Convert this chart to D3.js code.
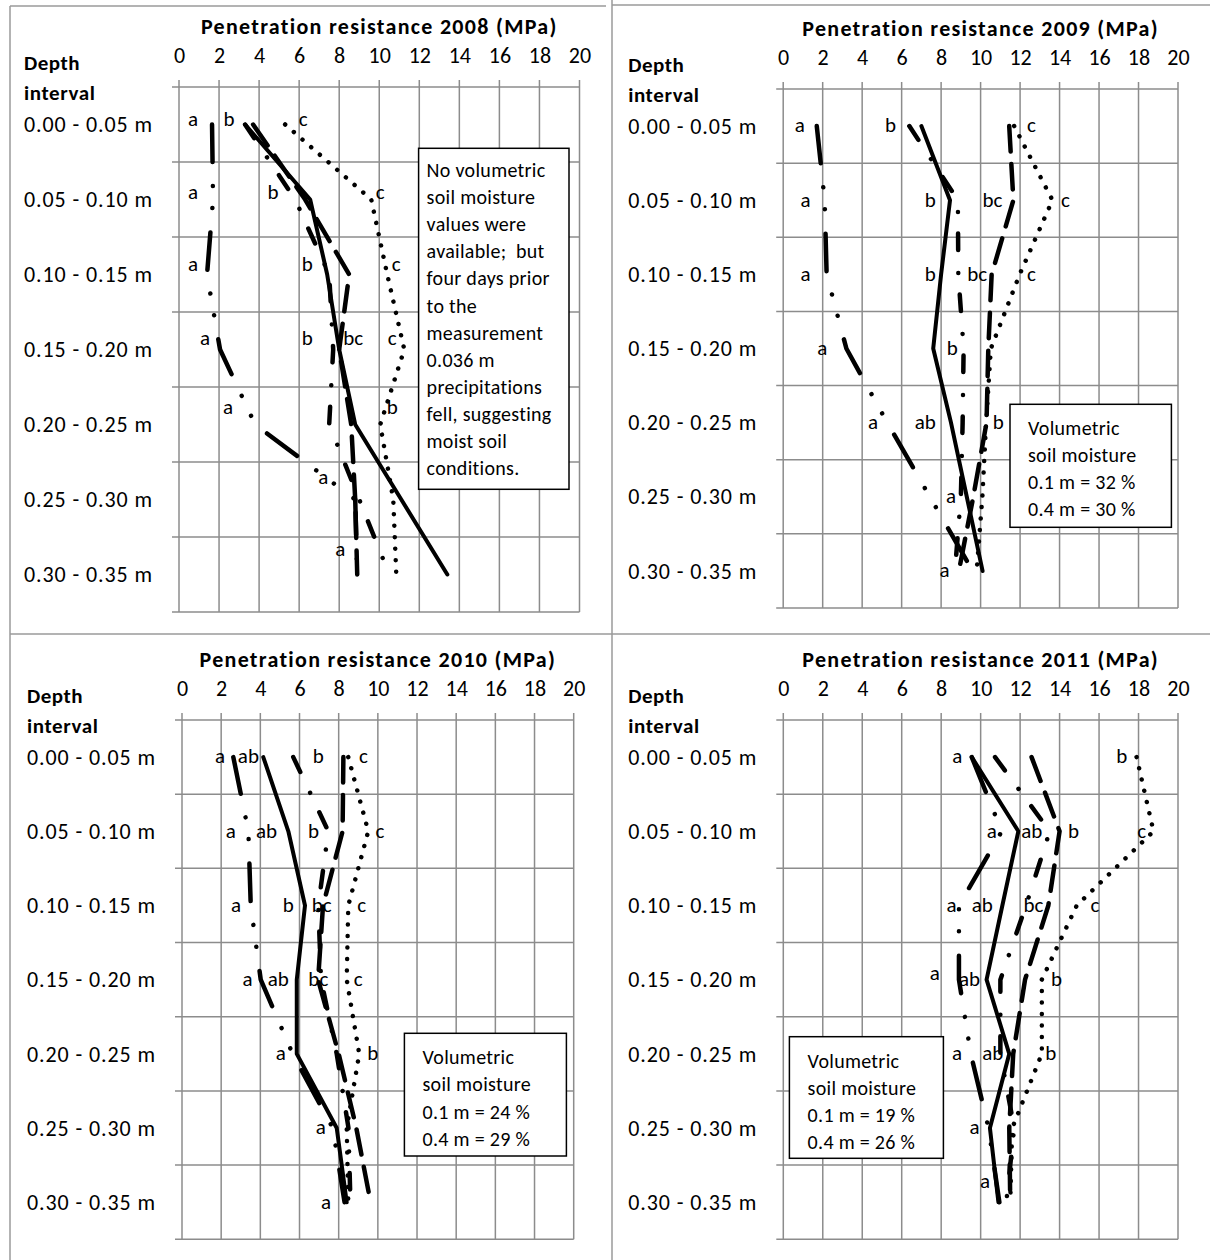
<!DOCTYPE html>
<html>
<head>
<meta charset="utf-8">
<script src="https://cdn.jsdelivr.net/npm/d3@7"></script>
<style>
  body { margin: 0; background: #fff; }
  text { font-family: Carlito, Lato, sans-serif; fill: #000; }
</style>
</head>
<body>
<div id="chart"></div>
<script>
// ---- data ----
const depthLabels = ["0.00 - 0.05 m", "0.05 - 0.10 m", "0.10 - 0.15 m", "0.15 - 0.20 m",
                     "0.20 - 0.25 m", "0.25 - 0.30 m", "0.30 - 0.35 m"];
const xTicks = [0, 2, 4, 6, 8, 10, 12, 14, 16, 18, 20];
const years = [2008, 2009, 2010, 2011];

// penetration resistance (MPa) per depth interval, one array per treatment line
const solid2008    = [3.3, 6.55, 7.4, 8.0, 8.8, 11.1, 13.4];
const dash2008     = [3.7, 6.3, 8.5, 8.0, 8.6, 8.8, 8.9];
const dashDot2008  = [3.3, 5.8, 7.5, 7.7, 7.5, 9.0, 10.5];
const dashDots2008 = [1.65, 1.7, 1.4, 2.05, 3.8, 8.8, 8.9];
const dots2008     = [5.3, 9.6, 10.4, 11.25, 10.05, 10.7, 10.85];

const solid2009    = [7.0, 8.45, 8.0, 7.6, 8.5, 9.3, 10.1];
const dash2009     = [11.45, 11.66, 10.56, 10.39, 10.3, 9.63, 8.9];
const dashDot2009  = [6.39, 8.85, 8.87, 9.14, 9.09, 9.0, 8.7];
const dashDots2009 = [1.7, 2.1, 2.2, 3.2, 5.27, 7.43, 9.6];
const dots2009     = [11.7, 13.64, 11.98, 10.52, 10.28, 10.09, 9.8];

const solid2010    = [4.15, 5.43, 6.28, 5.86, 5.86, 7.9, 8.41];
const dash2010     = [8.24, 8.2, 7.2, 6.95, 8.0, 8.9, 9.63];
const dashDot2010  = [5.68, 7.47, 6.96, 7.1, 7.9, 8.5, 8.6];
const dashDots2010 = [2.62, 3.39, 3.51, 4.02, 5.65, 7.7, 8.3];
const dots2010     = [8.49, 9.51, 8.49, 8.41, 9.05, 8.41, 8.49];

const solid2011    = [9.55, 11.91, 11.1, 10.3, 11.45, 10.47, 10.9];
const dash2011     = [12.58, 14.0, 13.43, 12.25, 11.65, 11.45, 11.5];
const dashDot2011  = [10.73, 13.5, 12.3, 11.0, 11.0, 11.7, 11.3];
const dashDots2011 = [9.55, 11.07, 8.9, 8.9, 9.5, 10.4, 10.95];
const dots2011     = [17.9, 18.76, 14.87, 13.1, 13.1, 11.6, 11.5];

// significance letters: [text, MPa position, depth position (row index)]
const letters2008 = [["a",0.7,-0.06],["b",2.5,-0.06],["c",6.2,-0.06],
  ["a",0.7,0.91],["b",4.7,0.91],["c",10.05,0.91],
  ["a",0.7,1.87],["b",6.4,1.87],["c",10.85,1.87],
  ["a",1.3,2.85],["b",6.4,2.85],["bc",8.7,2.85],["c",10.65,2.85],
  ["a",2.45,3.78],["b",10.65,3.78],
  ["a",7.2,4.71],["a",8.05,5.67]];
const letters2009 = [["a",0.84,0],["b",5.44,0],["c",12.57,0],
  ["a",1.13,1],["b",7.45,1],["bc",10.6,1],["c",14.3,1],
  ["a",1.13,2],["b",7.45,2],["bc",9.83,2],["c",12.57,2],
  ["a",1.98,3],["b",8.56,3],
  ["a",4.55,4],["ab",7.2,4],["b",10.9,4],
  ["a",8.5,5],["a",8.17,6]];
const letters2010 = [["a",1.94,0],["ab",3.39,0],["b",6.96,0],["c",9.26,0],
  ["a",2.49,1],["ab",4.32,1],["b",6.71,1],["c",10.11,1],
  ["a",2.76,2],["b",5.43,2],["bc",7.13,2],["c",9.18,2],
  ["a",3.35,3],["ab",4.92,3],["bc",6.96,3],["c",9.0,3],
  ["a",5.05,4],["b",9.74,4],
  ["a",7.08,5],["a",7.35,6]];
const letters2011 = [["a",8.82,0],["b",17.15,0],
  ["a",10.56,1],["ab",12.59,1],["b",14.7,1],["c",18.16,1],
  ["a",8.53,2],["ab",10.08,2],["bc",12.67,2],["c",15.79,2],
  ["a",7.68,2.92],["ab",9.44,3],["b",13.84,3],
  ["a",8.8,4],["ab",10.61,4],["b",13.55,4],
  ["a",9.69,5],["a",10.22,5.73]];

const note2008 = ["No volumetric", "soil moisture", "values were", "available;  but",
  "four days prior", "to the", "measurement", "0.036 m", "precipitations",
  "fell, suggesting", "moist soil", "conditions."];
const note2009 = ["Volumetric", "soil moisture", "0.1 m = 32 %", "0.4 m = 30 %"];
const note2010 = ["Volumetric", "soil moisture", "0.1 m = 24 %", "0.4 m = 29 %"];
const note2011 = ["Volumetric", "soil moisture", "0.1 m = 19 %", "0.4 m = 26 %"];

const panelSeries = [
  [solid2008, dash2008, dashDot2008, dashDots2008, dots2008],
  [solid2009, dash2009, dashDot2009, dashDots2009, dots2009],
  [solid2010, dash2010, dashDot2010, dashDots2010, dots2010],
  [solid2011, dash2011, dashDot2011, dashDots2011, dots2011]
];
const panelLetters = [letters2008, letters2009, letters2010, letters2011];
const panelNotes = [note2008, note2009, note2010, note2011];

// ---- styles ----
const lineStyles = [
  {w: 4,   dash: null},                              // solid
  {w: 4.5, dash: "25.5,12.5"},                       // dash
  {w: 4.5, dash: "16.5,23,0.01,21.5"},               // dash dot
  {w: 4.5, dash: "37.5,24,0.01,22,0.01,24.5"},      // long dash dot dot
  {w: 4.5, dash: "0.01,11.5"}                        // round dot
];

// plot rectangles and note boxes (pixels)
const layout = [
  {left: 179, right: 579.5, top: 87, bottom: 612, box: [418.6, 148.3, 569, 489.3], noteX: 426.6, noteY0: 170, noteStep: 27.1},
  {left: 783.2, right: 1178, top: 89, bottom: 608, box: [1010, 404.3, 1171.4, 527.3], noteX: 1028, noteY0: 427.7, noteStep: 27.2},
  {left: 182, right: 573.7, top: 720, bottom: 1239.3, box: [404.4, 1033.3, 566.4, 1156], noteX: 422.5, noteY0: 1056.7, noteStep: 27.4},
  {left: 783.3, right: 1178, top: 720, bottom: 1239.3, box: [789.4, 1036.7, 943.4, 1158.3], noteX: 807.6, noteY0: 1060.7, noteStep: 27}
];

const W = 1210, H = 1260;
const svg = d3.select("#chart").append("svg")
  .attr("width", W).attr("height", H)
  .style("display", "block");

// outer table frame
const frameColor = "#9a9a9a";
const frame = svg.append("g").attr("stroke", frameColor).attr("stroke-width", 1.5);
frame.append("line").attr("x1", 10).attr("x2", 606).attr("y1", 6).attr("y2", 6);
frame.append("line").attr("x1", 612).attr("x2", W).attr("y1", 5).attr("y2", 5);
frame.append("line").attr("x1", 10).attr("x2", 10).attr("y1", 6).attr("y2", H);
frame.append("line").attr("x1", 612).attr("x2", 612).attr("y1", 0).attr("y2", H);
frame.append("line").attr("x1", 10).attr("x2", W).attr("y1", 634).attr("y2", 634);

const fontSize = 22;

years.forEach((year, p) => {
  const L = layout[p];
  const g = svg.append("g");

  const x = d3.scaleLinear().domain([0, 20]).range([L.left, L.right]);
  const y = d3.scaleBand().domain(depthLabels).range([L.top, L.bottom]);
  const bw = y.bandwidth();
  const yPos = v => L.top + bw * (v + 0.5);

  // vertical grid + ticks above the plot
  g.append("g").selectAll("line").data(xTicks).join("line")
    .attr("x1", d => x(d)).attr("x2", d => x(d))
    .attr("y1", L.top - 7).attr("y2", L.bottom)
    .attr("stroke", "#8c8c8c").attr("stroke-width", 1.5);

  // horizontal grid at the category boundaries
  g.append("g").selectAll("line").data(d3.range(depthLabels.length + 1)).join("line")
    .attr("x1", L.left - 7).attr("x2", L.right)
    .attr("y1", i => L.top + i * bw).attr("y2", i => L.top + i * bw)
    .attr("stroke", "#8c8c8c").attr("stroke-width", 1.5);

  // x axis labels on top
  const xAxis = d3.axisTop(x).tickValues(xTicks).tickSize(0).tickPadding(24);
  const ax = g.append("g").attr("transform", `translate(0,${L.top})`).call(xAxis);
  ax.select(".domain").remove();
  ax.selectAll("text").attr("font-size", fontSize).attr("font-family", "Carlito, Lato, sans-serif")
    .attr("fill", "#000");

  // title
  g.append("text")
    .attr("x", (L.left + L.right) / 2).attr("y", L.top - 53)
    .attr("text-anchor", "middle").attr("font-weight", "bold").attr("font-size", 22)
    .attr("letter-spacing", 1.3)
    .text(`Penetration resistance ${year} (MPa)`);

  // y heading
  g.append("text").attr("x", L.left - 155).attr("y", L.top - 17)
    .attr("font-weight", "bold").attr("font-size", 21).attr("letter-spacing", 0.5).text("Depth");
  g.append("text").attr("x", L.left - 155).attr("y", L.top + 13)
    .attr("font-weight", "bold").attr("font-size", 21).attr("letter-spacing", 0.6).text("interval");

  // category labels
  g.append("g").selectAll("text").data(depthLabels).join("text")
    .attr("x", L.left - 155).attr("y", d => y(d) + bw / 2)
    .attr("dy", "0.35em").attr("font-size", fontSize).attr("letter-spacing", 0.9).text(d => d);

  // note box
  const [bx0, by0, bx1, by1] = L.box;
  g.append("rect").attr("x", bx0).attr("y", by0).attr("width", bx1 - bx0).attr("height", by1 - by0)
    .attr("fill", "#fff").attr("stroke", "#000").attr("stroke-width", 1.5);
  g.append("g").selectAll("text").data(panelNotes[p]).join("text")
    .attr("x", L.noteX).attr("y", (d, i) => L.noteY0 + i * L.noteStep)
    .attr("dy", "0.35em").attr("font-size", 20).attr("letter-spacing", 0.3)
    .style("white-space", "pre").text(d => d);

  // lines
  const line = d3.line().x(d => x(d)).y((d, i) => yPos(i));
  panelSeries[p].forEach((vals, s) => {
    const st = lineStyles[s];
    g.append("path").datum(vals)
      .attr("d", line)
      .attr("fill", "none").attr("stroke", "#000")
      .attr("stroke-width", st.w)
      .attr("stroke-linecap", "round").attr("stroke-linejoin", "round")
      .attr("stroke-dasharray", st.dash);
  });

  // letters
  g.append("g").selectAll("text").data(panelLetters[p]).join("text")
    .attr("x", d => x(d[1])).attr("y", d => yPos(d[2]))
    .attr("dy", "0.3em").attr("text-anchor", "middle").attr("font-size", 21)
    .text(d => d[0]);
});
</script>
</body>
</html>
